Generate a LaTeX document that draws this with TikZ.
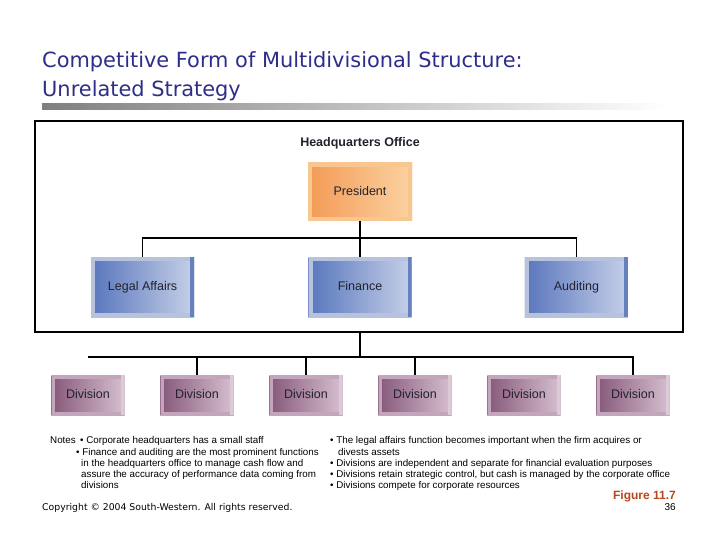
\documentclass[tikz,border=0pt]{standalone}
\usepackage{fontspec}
\setmainfont{Liberation Sans}
\newfontfamily\titlefont{DejaVu Sans}
\usetikzlibrary{positioning}
\definecolor{titleBlue}{HTML}{2E2E8A}
\definecolor{presLeft}{HTML}{F39A55}
\definecolor{presRight}{HTML}{FBD3A2}
\definecolor{presFrame}{HTML}{F8C68E}
\definecolor{staffLeft}{HTML}{5876BC}
\definecolor{staffRight}{HTML}{C6D0E8}
\definecolor{staffFrame}{HTML}{B7C3DD}
\definecolor{staffEdge}{HTML}{6680C0}
\definecolor{divLeft}{HTML}{86587A}
\definecolor{divRight}{HTML}{D6C0D0}
\definecolor{divFrame}{HTML}{C4A6BC}
\definecolor{divEdge}{HTML}{DCCAD6}
\definecolor{boxText}{HTML}{22222E}
\definecolor{figRed}{HTML}{B9461C}

\begin{document}
\begin{tikzpicture}[
    x=1pt, y=-1pt,
    unit/.style={
      rectangle, inner sep=0pt, text=boxText, align=center,
      text height=9pt, text depth=2.6pt,
      font=\fontsize{12.5}{14}\selectfont
    },
    pres/.style={
      unit, minimum width=104pt, minimum height=58pt,
      left color=presLeft, right color=presRight,
      path picture={
        \draw[presFrame, line width=8pt] (path picture bounding box.south west) rectangle (path picture bounding box.north east);
      }
    },
    staff/.style={
      unit, minimum width=103pt, minimum height=60pt,
      left color=staffLeft, right color=staffRight,
      path picture={
        \draw[staffFrame, line width=8pt] (path picture bounding box.south west) rectangle (path picture bounding box.north east);
        \draw[staffEdge, line width=8pt] (path picture bounding box.south east) -- (path picture bounding box.north east);
      }
    },
    division/.style={
      unit, minimum width=73pt, minimum height=40pt,
      left color=divLeft, right color=divRight,
      path picture={
        \draw[divFrame, line width=7pt] (path picture bounding box.south west) rectangle (path picture bounding box.north east);
        \draw[divEdge, line width=7pt] (path picture bounding box.south east) -- (path picture bounding box.north east);
      }
    },
    hqframe/.style={rectangle, draw, line width=1.4pt, minimum width=648pt, minimum height=211pt},
    link/.style={draw, line width=1.2pt},
    note/.style={inner sep=0pt, align=left, font=\fontsize{9.8}{11.25}\selectfont},
  ]
  \path[use as bounding box, fill=white] (0,0) rectangle (720,540);

  %% -- Title --
  \node[anchor=base west, inner sep=0pt, text=titleBlue, font=\titlefont\fontsize{20.9}{24}\selectfont]
    (title1) at (42,68) {Competitive Form of Multidivisional Structure:};
  \node[anchor=base west, inner sep=0pt, text=titleBlue, font=\titlefont\fontsize{20.9}{24}\selectfont]
    (title2) at (42,97) {Unrelated Strategy};
  \shade[left color=black!50, right color=white] (42,104) rectangle (668,110);

  %% -- Headquarters office --
  \node[hqframe] (HQ) at (359,226.5) {};
  \node[anchor=base, inner sep=0pt, font=\bfseries\fontsize{12.5}{14}\selectfont, text=boxText]
    (HQlabel) at (360,146.5) {Headquarters Office};

  \node[pres] (Pres) at (360,192) {President};
  \node[staff, below=36pt of Pres]       (Finance) {Finance};
  \node[staff, left=114pt of Finance]    (Legal)   {Legal Affairs};
  \node[staff, right=113pt of Finance]   (Audit)   {Auditing};

  %% -- Divisions --
  \node[division] (D1) at (88,395) {Division};
  \node[division, right=35.6pt of D1] (D2) {Division};
  \node[division, right=35.6pt of D2] (D3) {Division};
  \node[division, right=35.6pt of D3] (D4) {Division};
  \node[division, right=35.6pt of D4] (D5) {Division};
  \node[division, right=35.6pt of D5] (D6) {Division};

  %% -- Connectors --
  \coordinate (staffBus) at (360,238);
  \coordinate (divBus) at (360,357);
  \draw[link] (Pres.south) -- (Finance.north);
  \draw[link] (Legal.north) |- (staffBus) -| (Audit.north);
  \draw[link] (Finance.south |- HQ.south) -- (divBus);
  \draw[link] (D1.north |- divBus) -| (D6.north);
  \draw[link] (D2.north |- divBus) -- (D2.north);
  \draw[link] (D3.north |- divBus) -- (D3.north);
  \draw[link] (D4.north |- divBus) -- (D4.north);

  %% -- Notes --
  \node[note, anchor=north west] (notesL) at (50,436.5)
    {Notes \,• Corporate headquarters has a small staff\\
     \hspace*{26pt}• Finance and auditing are the most prominent functions\\
     \hspace*{31pt}in the headquarters office to manage cash flow and\\
     \hspace*{31pt}assure the accuracy of performance data coming from\\
     \hspace*{31pt}divisions};
  \node[note, anchor=north west] (notesR) at (330,436.5)
    {• The legal affairs function becomes important when the firm acquires or\\
     \hspace*{8pt}divests assets\\
     • Divisions are independent and separate for financial evaluation purposes\\
     • Divisions retain strategic control, but cash is managed by the corporate office\\
     • Divisions compete for corporate resources};

  %% -- Footer --
  \node[anchor=base west, inner sep=0pt, font=\titlefont\fontsize{9.3}{11}\selectfont]
    (copy) at (42,510.5) {Copyright © 2004 South-Western. All rights reserved.};
  \node[anchor=base east, inner sep=0pt, text=figRed, font=\bfseries\fontsize{12}{14}\selectfont]
    (fig) at (676,499.5) {Figure 11.7};
  \node[anchor=base east, inner sep=0pt, font=\fontsize{10}{12}\selectfont]
    (page) at (676,510.5) {36};

\end{tikzpicture}
\end{document}
